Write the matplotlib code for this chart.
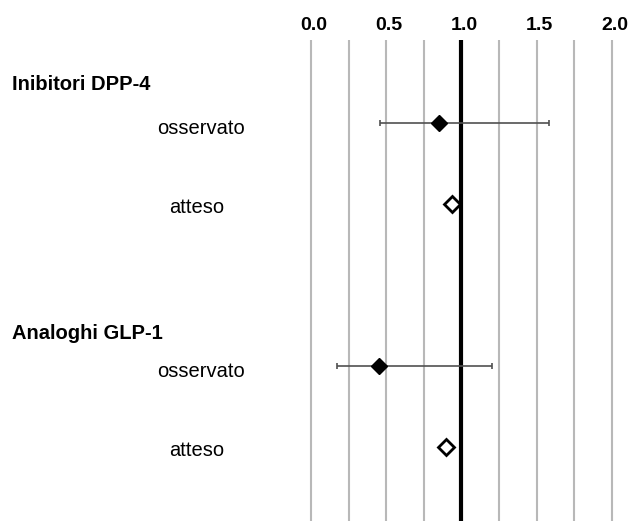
import matplotlib
matplotlib.use("Agg")
import matplotlib.pyplot as plt
import matplotlib.transforms as mtransforms
from matplotlib.ticker import MultipleLocator

plt.rcParams["font.family"] = ["Liberation Sans", "DejaVu Sans"]

# Data (risk ratio scale)
groups = ["Inibitori DPP-4", "Analoghi GLP-1"]
row_labels = ["osservato", "atteso"]

obs_est = [0.85, 0.45]
obs_low = [0.46, 0.175]
obs_high = [1.58, 1.20]
exp_est = [0.935, 0.895]

# row positions (top to bottom)
obs_rows = [1, 4]
exp_rows = [2, 5]
header_rows = [0.53, 3.6]

fig = plt.figure(figsize=(6.29, 5.21), dpi=100)
ax = fig.add_axes([300 / 629, 0, 324 / 629, 481 / 521])

ax.set_xlim(-0.073, 2.080)
ax.set_ylim(5.91, -0.025)

ax.xaxis.set_minor_locator(MultipleLocator(0.25))
ax.xaxis.tick_top()
ax.tick_params(axis="x", which="both", length=0, pad=4, labelsize=14)
ax.set_xticks([0, 0.5, 1.0, 1.5, 2.0])
ax.set_xticklabels(["0.0", "0.5", "1.0", "1.5", "2.0"], fontweight="bold")
# labels sit a few pixels right of the gridlines in the original
offset = mtransforms.ScaledTranslation(3 / 100, 0, fig.dpi_scale_trans)
for lbl in ax.get_xticklabels():
    lbl.set_transform(lbl.get_transform() + offset)
ax.set_yticks([])
ax.grid(axis="x", which="both", color="#b8b8b8", linewidth=1.5)
for s in ax.spines.values():
    s.set_visible(False)

# reference line at 1
ax.axvline(1.0, color="black", linewidth=3, zorder=2)

# observed with CI, expected as open diamond
for i in range(len(groups)):
    ax.errorbar(obs_est[i], obs_rows[i],
                xerr=[[obs_est[i] - obs_low[i]], [obs_high[i] - obs_est[i]]],
                fmt="D", color="black", ecolor="#505050",
                markersize=8, elinewidth=1.2, capsize=2, capthick=1.2,
                zorder=3)
    ax.plot(exp_est[i], exp_rows[i], marker="D", markersize=8,
            markerfacecolor="white", markeredgecolor="black",
            markeredgewidth=2, linestyle="none", zorder=3)

# labels on the left
tr = ax.get_yaxis_transform()
for i, g in enumerate(groups):
    ax.text(-0.889, header_rows[i], g, transform=tr, fontsize=14.5,
            fontweight="bold", ha="left", va="center")
    ax.text(-0.306, obs_rows[i] + 0.07, row_labels[0], transform=tr,
            fontsize=14.5, ha="center", va="center")
    ax.text(-0.318, exp_rows[i] + 0.04, row_labels[1], transform=tr,
            fontsize=14.5, ha="center", va="center")

fig.savefig("out.png", dpi=100)
